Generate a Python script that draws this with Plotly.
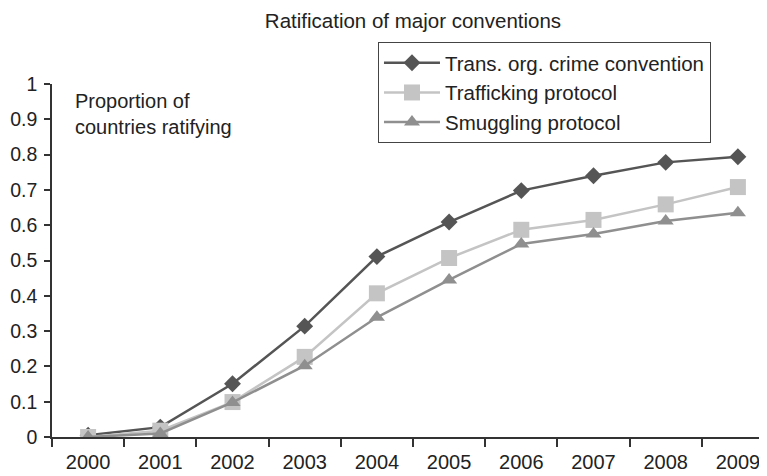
import plotly.graph_objects as go

years = ["2000", "2001", "2002", "2003", "2004", "2005", "2006", "2007", "2008", "2009"]
crime_convention = [0.005, 0.028, 0.151, 0.314, 0.511, 0.609, 0.698, 0.740, 0.778, 0.794]
trafficking = [0.0, 0.018, 0.099, 0.227, 0.407, 0.507, 0.587, 0.615, 0.659, 0.708]
smuggling = [0.0, 0.010, 0.098, 0.202, 0.339, 0.445, 0.547, 0.575, 0.612, 0.635]

FONT = "Liberation Sans, Arial, Helvetica, sans-serif"

fig = go.Figure()
fig.add_trace(go.Scatter(
    x=years, y=crime_convention, name="Trans. org. crime convention",
    mode="lines+markers",
    line=dict(color="#555555", width=2.5),
    marker=dict(symbol="diamond", size=13, color="#555555"),
))
fig.add_trace(go.Scatter(
    x=years, y=trafficking, name="Trafficking protocol",
    mode="lines+markers",
    line=dict(color="#c4c4c4", width=2.5),
    marker=dict(symbol="square", size=16, color="#c4c4c4"),
))
fig.add_trace(go.Scatter(
    x=years, y=smuggling, name="Smuggling protocol",
    mode="lines+markers",
    line=dict(color="#8f8f8f", width=2.5),
    marker=dict(symbol="triangle-up", size=14, color="#8f8f8f"),
))

fig.update_layout(
    width=767, height=476,
    margin=dict(l=44, r=1, t=76, b=47, autoexpand=False),
    paper_bgcolor="white", plot_bgcolor="white",
    font=dict(family=FONT, size=20, color="#222222"),
    title=dict(text="Ratification of major conventions", x=0.5, xref="paper",
               xanchor="center", y=0.9885, yref="container", yanchor="top",
               font=dict(size=20.5, color="#222222")),
    showlegend=True,
    legend=dict(x=0.4515, y=1.119, xanchor="left", yanchor="top",
                bordercolor="#444444", borderwidth=1, bgcolor="white",
                font=dict(size=20.5), tracegroupgap=0, itemwidth=56),
    xaxis=dict(type="category", range=[-0.5, 9.5], showline=True, linecolor="#333333",
               linewidth=1.5, ticks="outside", tickson="boundaries", ticklen=8,
               tickcolor="#333333", tickwidth=1.5, showgrid=False, zeroline=False,
               ticklabelstandoff=6, automargin=False, fixedrange=True),
    yaxis=dict(range=[0, 1], dtick=0.1, tick0=0, showline=True, linecolor="#333333",
               linewidth=1.5, ticks="outside", ticklen=6, tickcolor="#333333",
               tickwidth=1.5, showgrid=False, zeroline=False, ticklabelstandoff=3,
               tickfont=dict(size=19.5), automargin=False, fixedrange=True),
)

fig.add_annotation(
    text="Proportion of<br>countries ratifying", xref="paper", yref="paper",
    x=0.0295, y=0.988, xanchor="left", yanchor="top", align="left",
    showarrow=False, font=dict(size=20, color="#222222"),
)

fig.write_html("out.html")
